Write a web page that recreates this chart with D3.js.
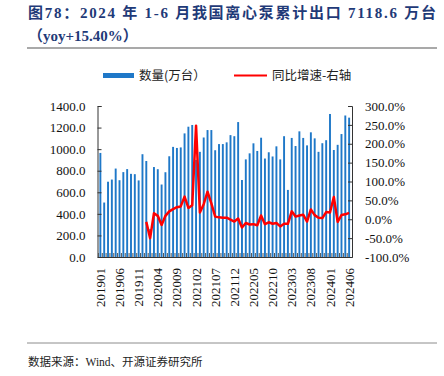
<!DOCTYPE html>
<html>
<head>
<meta charset="utf-8">
<script src="https://cdn.jsdelivr.net/npm/d3@7"></script>
<style>
  body { margin: 0; background: #fff; }
  svg { display: block; }
</style>
</head>
<body>
<svg id="chart" width="444" height="376"></svg>
<script>
// monthly categories
const months = [
  "201901","201902","201903","201904","201905","201906","201907","201908","201909","201910","201911","201912",
  "202001","202002","202003","202004","202005","202006","202007","202008","202009","202010","202011","202012",
  "202101","202102","202103","202104","202105","202106","202107","202108","202109","202110","202111","202112",
  "202201","202202","202203","202204","202205","202206","202207","202208","202209","202210","202211","202212",
  "202301","202302","202303","202304","202305","202306","202307","202308","202309","202310","202311","202312",
  "202401","202402","202403","202404","202405","202406"];

// export volume, 万台
const volume = [
  965, 505, 698, 718, 820, 712, 787, 815, 771, 768, 710, 953,
  890, 258, 834, 814, 672, 786, 934, 1021, 1011, 1016, 1146, 1208,
  1224, 900, 975, 1108, 1177, 1177, 990, 1047, 1047, 1063, 1130, 1120,
  1251, 714, 905, 961, 1054, 983, 1106, 913, 971, 932, 1026, 905,
  1120, 622, 1104, 1029, 1165, 1104, 1035, 1156, 1100, 975, 1055, 1083,
  1326, 992, 1040, 1140, 1312, 1292];

// yoy growth, %  (no value for 2019)
const yoy = [
  null, null, null, null, null, null, null, null, null, null, null, null,
  -7, -50, 16, 9, -15, 9, 21, 27, 32, 34, 60, 30,
  37, 248, 18, 40, 73, 42, 7, 5, 4, 4, -1, -6,
  2, -22, -10, -14, -13, -16, 10, -13, -8, -12, -10, -19,
  -12, -12, 21, 7, 10, 12, -6, 26, 11, 4, 3, 19,
  18, 59, -7, 11, 13, 17];

const leftTicks = [0, 200, 400, 600, 800, 1000, 1200, 1400];
const rightTicks = [-100, -50, 0, 50, 100, 150, 200, 250, 300];
const shownMonths = months.filter((d, i) => i % 5 === 0);

const titleLine1 = "图78：2024 年 1-6 月我国离心泵累计出口 7118.6 万台";
const titleLine2 = "（yoy+15.40%）";
const sourceText = "数据来源：Wind、开源证券研究所";

const serif = "'Liberation Serif', 'Times New Roman', 'Noto Sans CJK SC', serif";
const blue = "#1f78c8";
const red = "#ff0000";
const navy = "#1f3a78";

const svg = d3.select("#chart");

// title
svg.append("text")
  .attr("x", 28).attr("y", 18)
  .attr("textLength", 408).attr("lengthAdjust", "spacing")
  .attr("font-family", serif).attr("font-size", 15).attr("font-weight", "bold")
  .attr("fill", navy)
  .text(titleLine1);
svg.append("text")
  .attr("x", 28).attr("y", 41)
  .attr("font-family", serif).attr("font-size", 15).attr("font-weight", "bold")
  .attr("fill", navy)
  .text(titleLine2);

svg.append("line")
  .attr("x1", 27).attr("x2", 437).attr("y1", 48).attr("y2", 48)
  .attr("stroke", "#8c8c8c").attr("stroke-width", 1.5);

// scales
const x = d3.scaleBand().domain(months).range([97.5, 352]).padding(0.5);
const y = d3.scaleLinear().domain([0, 1400]).range([257, 106]);
const y2 = d3.scaleLinear().domain([-100, 300]).range([257, 106]);

// bars
svg.append("g")
  .selectAll("rect")
  .data(months.map((m, i) => ({m, v: volume[i]})))
  .join("rect")
  .attr("x", d => x(d.m))
  .attr("width", x.bandwidth())
  .attr("y", d => y(d.v))
  .attr("height", d => y(0) - y(d.v))
  .attr("fill", blue);

// line
const line = d3.line()
  .defined(d => d.v !== null)
  .x(d => x(d.m) + x.bandwidth() / 2)
  .y(d => y2(d.v));

svg.append("path")
  .datum(months.map((m, i) => ({m, v: yoy[i]})))
  .attr("d", line)
  .attr("fill", "none")
  .attr("stroke", red)
  .attr("stroke-width", 2.5)
  .attr("stroke-linejoin", "round");

// axes
const axisColor = "#333";
const leftAxis = svg.append("g")
  .attr("transform", "translate(97.5,0)")
  .call(d3.axisLeft(y).tickValues(leftTicks).tickSize(-4).tickPadding(12).tickFormat(d3.format(".1f")));
const rightAxis = svg.append("g")
  .attr("transform", "translate(352,0)")
  .call(d3.axisRight(y2).tickValues(rightTicks).tickSize(-4).tickPadding(13).tickFormat(d => d.toFixed(1) + "%"));
const bottomAxis = svg.append("g")
  .attr("transform", "translate(0,257)")
  .call(d3.axisBottom(x).tickValues(shownMonths).tickSize(0).tickPadding(0));

[leftAxis, rightAxis, bottomAxis].forEach(g => {
  g.select(".domain").attr("stroke", axisColor).attr("stroke-width", 1);
  g.selectAll(".tick line").attr("stroke", axisColor);
  g.selectAll("text")
    .attr("font-family", serif).attr("font-size", 13).attr("fill", "#111");
});

bottomAxis.selectAll("text")
  .attr("transform", "rotate(-90)")
  .attr("text-anchor", "end")
  .attr("dx", -11)
  .attr("dy", "0.35em")
  .attr("y", 0);

// small category ticks along the baseline
svg.append("g")
  .selectAll("line")
  .data(months)
  .join("line")
  .attr("x1", d => x(d) - x.step() * x.paddingInner() / 2)
  .attr("x2", d => x(d) - x.step() * x.paddingInner() / 2)
  .attr("y1", 257).attr("y2", 253)
  .attr("stroke", "#555").attr("stroke-width", 1);

// legend
const legend = svg.append("g").attr("font-family", "'Noto Sans CJK SC', sans-serif").attr("font-size", 12.5).attr("fill", "#222");
legend.append("rect").attr("x", 103).attr("y", 73).attr("width", 31).attr("height", 5).attr("fill", blue);
legend.append("text").attr("x", 139).attr("y", 80).text("数量(万台）");
legend.append("line").attr("x1", 234).attr("x2", 267).attr("y1", 75.5).attr("y2", 75.5).attr("stroke", red).attr("stroke-width", 2);
legend.append("text").attr("x", 272).attr("y", 80).text("同比增速-右轴");

// source
svg.append("line")
  .attr("x1", 27).attr("x2", 437).attr("y1", 343).attr("y2", 343)
  .attr("stroke", "#8c8c8c").attr("stroke-width", 1);
svg.append("text")
  .attr("x", 28).attr("y", 366)
  .attr("font-family", serif).attr("font-size", 11.5).attr("fill", "#222")
  .text(sourceText);
</script>
</body>
</html>
